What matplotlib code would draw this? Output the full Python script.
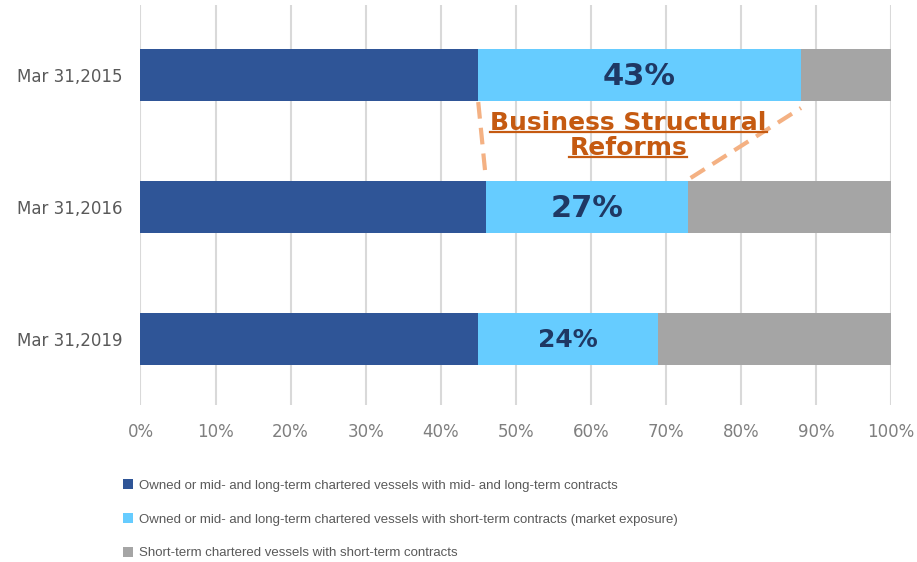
import matplotlib
matplotlib.use("Agg")
import matplotlib.pyplot as plt
from matplotlib.patches import Patch
from matplotlib.lines import Line2D
from matplotlib import font_manager
import numpy as np

categories = ["Mar 31,2015", "Mar 31,2016", "Mar 31,2019"]
long_term = [45, 46, 45]
market_exposure = [43, 27, 24]
short_term = [12, 27, 31]
series_labels = [
    "Owned or mid- and long-term chartered vessels with mid- and long-term contracts",
    "Owned or mid- and long-term chartered vessels with short-term contracts (market exposure)",
    "Short-term chartered vessels with short-term contracts",
]
colors = ["#2F5597", "#66CCFF", "#A5A5A5"]
xticks = [0, 10, 20, 30, 40, 50, 60, 70, 80, 90, 100]
annotation_text = ["Business Structural", "Reforms"]

plt.rcParams["font.family"] = ["DejaVu Sans"]

# pick a condensed font for the legend if one is installed
legend_family, legend_size, legend_spacing = "Liberation Sans", 9.5, 1.62
for fam, size in [("Liberation Sans Narrow", 10.5)]:
    try:
        font_manager.findfont(font_manager.FontProperties(family=fam),
                              fallback_to_default=False)
        legend_family, legend_size, legend_spacing = fam, size, 1.4
        break
    except Exception:
        pass

fig = plt.figure(figsize=(9.17, 5.62), dpi=100)
ax = fig.add_axes([0.1532, 0.2794, 0.9717 - 0.1532, 0.991 - 0.2794])

y = np.arange(len(categories))
h = 0.4
lt = np.array(long_term)
me = np.array(market_exposure)
st = np.array(short_term)
ax.barh(y, lt, height=h, color=colors[0], zorder=2)
ax.barh(y, me, left=lt, height=h, color=colors[1], zorder=2)
ax.barh(y, st, left=lt + me, height=h, color=colors[2], zorder=2)

sizes = [22, 22, 18]
for i in range(len(categories)):
    ax.text(lt[i] + me[i] / 2, y[i] + 0.01, f"{me[i]}%", ha="center", va="center",
            fontsize=sizes[i], fontweight="bold", color="#1F3864", zorder=3)

ax.set_xlim(0, 100)
ax.set_ylim(2.5, -0.53)
ax.set_xticks(xticks)
ax.set_xticklabels([f"{t}%" for t in xticks])
ax.set_yticks(y)
ax.set_yticklabels(categories)
ax.tick_params(axis="x", length=0, pad=13, labelsize=12, labelcolor="#7F7F7F")
ax.tick_params(axis="y", length=0, pad=13, labelsize=12, labelcolor="#595959")
ax.grid(axis="x", color="#D9D9D9", linewidth=1.5, zorder=0)
ax.set_axisbelow(True)
for s in ax.spines.values():
    s.set_visible(False)

# dashed annotation lines
dash_kw = dict(color="#F4B183", linewidth=3, linestyle=(0, (4, 2.2)), zorder=4,
               solid_capstyle="butt")
ax.plot([lt[0], lt[1] - 0.1], [y[0] + h / 2 + 0.005, y[1] - 0.28], **dash_kw)
ax.plot([lt[1] + me[1] + 0.3, lt[0] + me[0]], [y[1] - 0.22, y[0] + 0.25], **dash_kw)

txt_color = "#C55A11"
t1 = ax.text(65, 0.36, annotation_text[0], ha="center", va="center",
             fontsize=18, fontweight="bold", color=txt_color, zorder=5)
t2 = ax.text(65, 0.55, annotation_text[1], ha="center", va="center",
             fontsize=18, fontweight="bold", color=txt_color, zorder=5)

# legend
handles = [Patch(facecolor=c, edgecolor="none") for c in colors]
leg = fig.legend(handles, series_labels, loc="upper left",
                 bbox_to_anchor=(0.128, 1 - 474 / 562), frameon=False,
                 handlelength=0.75, handleheight=0.75, handletextpad=0.5,
                 labelspacing=legend_spacing, borderaxespad=0,
                 prop={"family": [legend_family, "DejaVu Sans"], "size": legend_size})
for t in leg.get_texts():
    t.set_color("#595959")

fig.canvas.draw()
renderer = fig.canvas.get_renderer()
inv = fig.transFigure.inverted()
for t in (t1, t2):
    bb = t.get_window_extent(renderer)
    (x0, y0), (x1, y1) = inv.transform([(bb.x0, bb.y0 + 3), (bb.x1, bb.y0 + 3)])
    fig.add_artist(Line2D([x0, x1], [y0, y1], color=txt_color, linewidth=1.6,
                          transform=fig.transFigure, zorder=5))

fig.savefig("out.png", dpi=100)
